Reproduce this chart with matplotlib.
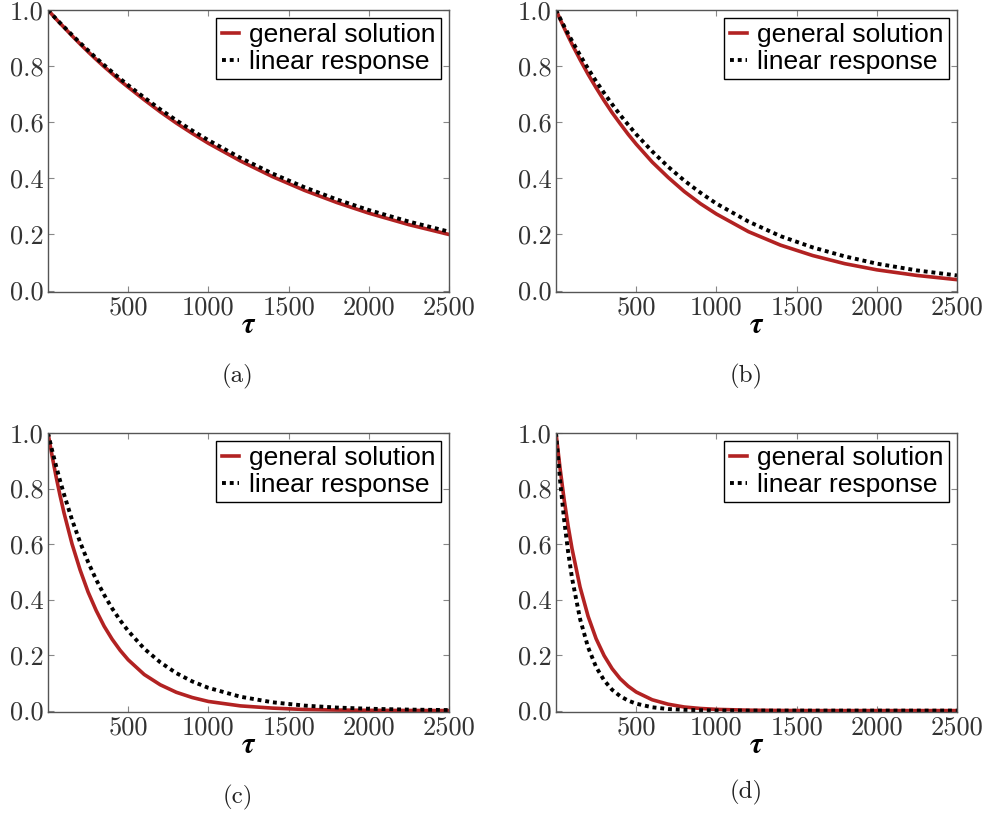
import numpy as np
import matplotlib
matplotlib.use('Agg')
import matplotlib.pyplot as plt

# tau grid (denser near 0 where curves drop fast)
tau = [0, 25, 50, 75, 100, 150, 200, 250, 300, 350, 400, 450, 500, 600, 700, 800, 900,
       1000, 1200, 1400, 1600, 1800, 2000, 2250, 2500]

# (a)
gen_a = [1.0, 0.984, 0.968, 0.953, 0.938, 0.908, 0.879, 0.851, 0.824, 0.798, 0.773, 0.748,
         0.725, 0.680, 0.637, 0.597, 0.560, 0.525, 0.462, 0.406, 0.357, 0.314, 0.276, 0.235, 0.200]
lin_a = [1.0, 0.984, 0.969, 0.954, 0.940, 0.911, 0.883, 0.856, 0.829, 0.804, 0.779, 0.755,
         0.732, 0.688, 0.646, 0.607, 0.570, 0.536, 0.473, 0.417, 0.368, 0.325, 0.287, 0.246, 0.210]
# (b)
gen_b = [1.0, 0.968, 0.937, 0.907, 0.878, 0.823, 0.771, 0.723, 0.677, 0.634, 0.595, 0.557,
         0.522, 0.458, 0.403, 0.353, 0.310, 0.273, 0.210, 0.162, 0.125, 0.096, 0.074, 0.054, 0.039]
lin_b = [1.0, 0.971, 0.943, 0.916, 0.890, 0.839, 0.791, 0.746, 0.704, 0.664, 0.626, 0.591,
         0.557, 0.496, 0.441, 0.392, 0.349, 0.310, 0.246, 0.194, 0.154, 0.122, 0.096, 0.072, 0.054]
# (c)
gen_c = [1.0, 0.919, 0.844, 0.775, 0.712, 0.600, 0.507, 0.427, 0.361, 0.304, 0.257, 0.217,
         0.183, 0.130, 0.093, 0.066, 0.047, 0.033, 0.017, 0.009, 0.004, 0.002, 0.001, 0.0005, 0.0002]
lin_c = [1.0, 0.939, 0.882, 0.829, 0.779, 0.687, 0.607, 0.535, 0.472, 0.417, 0.368, 0.325,
         0.287, 0.223, 0.174, 0.135, 0.105, 0.082, 0.050, 0.030, 0.018, 0.011, 0.0067, 0.0036, 0.0019]
# (d)
gen_d = [1.0, 0.874, 0.763, 0.667, 0.583, 0.445, 0.340, 0.259, 0.198, 0.151, 0.115, 0.088,
         0.067, 0.039, 0.023, 0.013, 0.0077, 0.0045, 0.0015, 0.0005, 0.0, 0.0, 0.0, 0.0, 0.0]
lin_d = [1.0, 0.831, 0.691, 0.574, 0.477, 0.330, 0.228, 0.157, 0.109, 0.075, 0.052, 0.036,
         0.025, 0.012, 0.0056, 0.0027, 0.0013, 0.0006, 0.0, 0.0, 0.0, 0.0, 0.0, 0.0, 0.0]

panels = [('(a)', gen_a, lin_a), ('(b)', gen_b, lin_b),
          ('(c)', gen_c, lin_c), ('(d)', gen_d, lin_d)]

xticks = [500, 1000, 1500, 2000, 2500]
yticks = [0.0, 0.2, 0.4, 0.6, 0.8, 1.0]

W, H = 986, 818
# axes boxes in pixels: left, top, right, bottom
boxes = [(48, 10, 449, 292), (556, 10, 957, 292),
         (48, 433, 449, 712), (556, 433, 957, 712)]
captions_xy = [(238, 376), (746, 376), (238, 797), (746, 792)]


def main():
    plt.rcParams['font.family'] = 'serif'
    plt.rcParams['font.serif'] = ['cmr10']
    plt.rcParams['mathtext.fontset'] = 'cm'
    plt.rcParams['axes.formatter.use_mathtext'] = True

    fig = plt.figure(figsize=(W / 100, H / 100), dpi=100)
    for (cap, gen, lin), box, cxy in zip(panels, boxes, captions_xy):
        l, t, r, b = box
        ax = fig.add_axes([l / W, 1 - b / H, (r - l) / W, (b - t) / H])
        draw_panel(ax, gen, lin)
        fig.text(cxy[0] / W, 1 - cxy[1] / H, cap, ha='center', va='center',
                 fontsize=18, color='#222222')

    fig.savefig('out.png', dpi=100)


def draw_panel(ax, gen, lin):
    ax.plot(tau, gen, '-', color='#b22222', lw=2.6, label='general solution')
    ax.plot(tau, lin, color='black', lw=2.8, linestyle=(0, (1, 1)),
            label='linear response')

    ax.set_xlim(0, 2500)
    ax.set_ylim(-0.005, 1.0)
    ax.set_xticks(xticks)
    ax.set_yticks(yticks)
    ax.set_xticklabels([str(v) for v in xticks])
    ax.set_yticklabels(['%.1f' % v for v in yticks])
    ax.tick_params(direction='in', top=True, right=True, length=4, width=0.8,
                   color='#888888', labelsize=19, labelcolor='#333333', pad=3)
    for s in ax.spines.values():
        s.set_color('#555555')
        s.set_linewidth(1.0)

    ax.set_xlabel(r'$\boldsymbol{\tau}$', fontsize=21, labelpad=-5)

    leg = ax.legend(loc='upper right', prop={'family': 'Liberation Sans', 'size': 19},
                    fancybox=False, framealpha=1, edgecolor='black',
                    handlelength=0.65, handletextpad=0.4, labelspacing=0.1,
                    borderpad=0.2, borderaxespad=0.3)
    leg.get_frame().set_linewidth(1.0)


if __name__ == '__main__':
    main()
